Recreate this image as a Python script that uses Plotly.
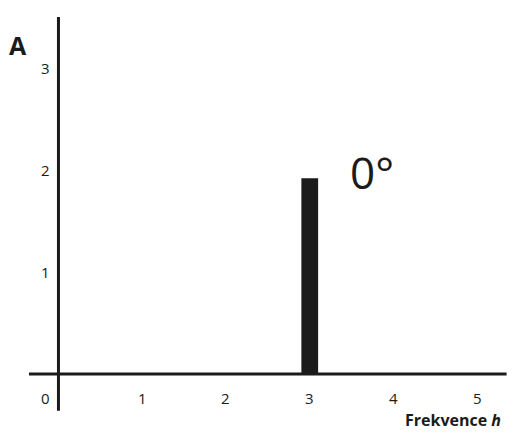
import plotly.graph_objects as go

# data
harmonics = [3]
amplitudes = [1.92]
x_ticks = [0, 1, 2, 3, 4, 5]
x_tick_labels = ["0", "1", "2", "3", "4", "5"]
y_ticks = [1, 2, 3]
y_tick_labels = ["1", "2", "3"]

FONT = "Open Sans"
INK = "#1b1b1b"

fig = go.Figure()
fig.add_trace(go.Bar(x=harmonics, y=amplitudes, width=0.2,
                     marker=dict(color=INK, line=dict(width=0)),
                     hoverinfo="skip"))

# axis lines
fig.add_shape(type="line", x0=0, x1=0, y0=-0.36, y1=3.5,
              line=dict(color=INK, width=3), layer="above")
fig.add_shape(type="line", x0=-0.352, x1=5.35, y0=0, y1=0,
              line=dict(color=INK, width=3), layer="above")

ann = []
for v, t in zip(x_ticks, x_tick_labels):
    xx = v if v != 0 else -0.16
    ann.append(dict(x=xx, y=-0.24, text=t, showarrow=False,
                    font=dict(family=FONT, size=15, color=INK)))
for v, t in zip(y_ticks, y_tick_labels):
    ann.append(dict(x=-0.155, y=v, text=t, showarrow=False,
                    font=dict(family=FONT, size=15, color=INK)))
ann.append(dict(x=-0.484, y=3.23, text="<b>A</b>", showarrow=False,
                font=dict(family=FONT, size=25, color=INK)))
ann.append(dict(x=3.745, y=1.98, text="0°", showarrow=False,
                font=dict(family=FONT, size=44, color=INK)))
ann.append(dict(x=5.31, y=-0.45, text="<b>Frekvence <i>h</i></b>", showarrow=False,
                xanchor="right",
                font=dict(family=FONT, size=16, color=INK)))

fig.update_layout(
    width=524, height=436,
    margin=dict(l=0, r=0, t=0, b=0),
    paper_bgcolor="white", plot_bgcolor="white",
    showlegend=False,
    annotations=ann,
    xaxis=dict(range=[-0.698, 5.558], visible=False, fixedrange=True),
    yaxis=dict(range=[-0.608, 3.667], visible=False, fixedrange=True),
)

fig.write_html("out.html", config={"displayModeBar": False},
               post_script="document.body.style.margin='0';document.body.style.overflow='hidden';")
